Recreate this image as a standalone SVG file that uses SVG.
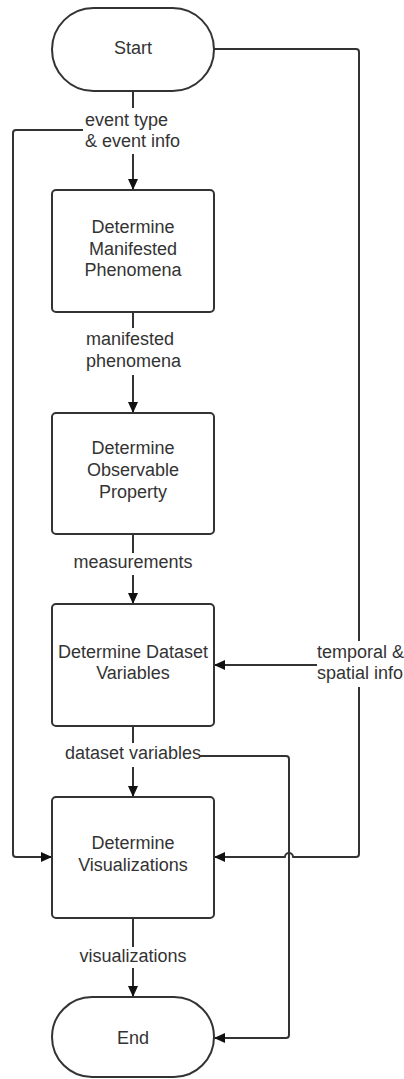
<svg xmlns="http://www.w3.org/2000/svg" width="404" height="1079" viewBox="0 0 404 1079">
<style>
.n{fill:#fff;stroke:#333;stroke-width:2}
.t{font-family:"Liberation Sans",Arial,sans-serif;font-size:18px;fill:#333;text-anchor:middle}
.l{font-family:"Liberation Sans",Arial,sans-serif;font-size:18px;fill:#333}
.c{fill:none;stroke:#333;stroke-width:2;stroke-linejoin:round}
</style>
<defs>
<marker id="a" markerUnits="userSpaceOnUse" markerWidth="11" markerHeight="10" refX="11" refY="5" orient="auto">
<path d="M0,0 L11,5 L0,10 z" fill="#111"/>
</marker>
</defs>
<rect width="404" height="1079" fill="#fff"/>
<g id="connectors">
<path class="c" d="M133,91 V108"/>
<path class="c" d="M133,154 V190" marker-end="url(#a)"/>
<path class="c" d="M83,130 H16 Q13,130 13,133 V854 Q13,857 16,857 H52" marker-end="url(#a)"/>
<path class="c" d="M214,49 H356 Q359,49 359,52 V641"/>
<path class="c" d="M359,687 V854 Q359,857 356,857 H293 A4,4 0 0 0 285,857 H214" marker-end="url(#a)"/>
<path class="c" d="M133,312 V328"/>
<path class="c" d="M133,375 V413" marker-end="url(#a)"/>
<path class="c" d="M133,534 V553"/>
<path class="c" d="M133,575 V604" marker-end="url(#a)"/>
<path class="c" d="M317,665 H214" marker-end="url(#a)"/>
<path class="c" d="M133,726 V743"/>
<path class="c" d="M133,767 V797" marker-end="url(#a)"/>
<path class="c" d="M200,756 H286 Q289,756 289,759 V1035 Q289,1038 286,1038 H214" marker-end="url(#a)"/>
<path class="c" d="M133,918 V947"/>
<path class="c" d="M133,968 V997" marker-end="url(#a)"/>
<text class="l" x="85" y="126">event type</text>
<text class="l" x="85" y="147">&amp; event info</text>
<text class="l" x="86" y="345">manifested</text>
<text class="l" x="86" y="367">phenomena</text>
<text class="t" x="133" y="568">measurements</text>
<text class="l" x="317" y="658">temporal &amp;</text>
<text class="l" x="317" y="679">spatial info</text>
<text class="t" x="133" y="759">dataset variables</text>
<text class="t" x="133" y="962">visualizations</text>
</g>
<g id="start">
<rect class="n" x="52" y="8" width="162" height="83" rx="41.5"/>
<text class="t" x="133" y="54">Start</text>
</g>
<g id="manifested">
<rect class="n" x="52" y="190" width="162" height="122" rx="4"/>
<text class="t" x="133" y="233">Determine</text>
<text class="t" x="133" y="255">Manifested</text>
<text class="t" x="133" y="276">Phenomena</text>
</g>
<g id="observable">
<rect class="n" x="52" y="413" width="162" height="121" rx="4"/>
<text class="t" x="133" y="454">Determine</text>
<text class="t" x="133" y="476">Observable</text>
<text class="t" x="133" y="498">Property</text>
</g>
<g id="dataset">
<rect class="n" x="52" y="604" width="162" height="122" rx="4"/>
<text class="t" x="133" y="658">Determine Dataset</text>
<text class="t" x="133" y="679">Variables</text>
</g>
<g id="visualizations">
<rect class="n" x="52" y="797" width="162" height="121" rx="4"/>
<text class="t" x="133" y="849">Determine</text>
<text class="t" x="133" y="871">Visualizations</text>
</g>
<g id="end">
<rect class="n" x="52" y="997" width="162" height="80" rx="40"/>
<text class="t" x="133" y="1044">End</text>
</g>
</svg>
